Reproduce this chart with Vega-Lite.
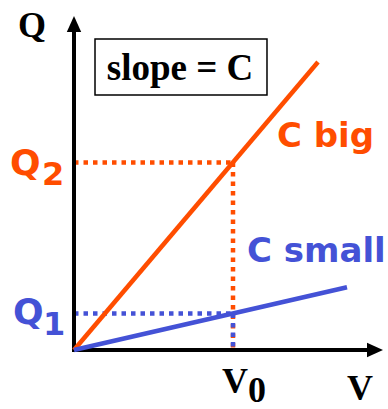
{
  "$schema": "https://vega.github.io/schema/vega-lite/v6.json",
  "width": 388,
  "height": 409,
  "autosize": "none",
  "padding": 0,
  "background": "white",
  "config": {"view": {"stroke": null}},
  "datasets": {
    "axes": [
      {"v": 0, "q": 0, "v2": 0, "q2": 2.013},
      {"v": 0, "q": 0, "v2": 1.8616, "q2": 0}
    ],
    "arrows": [
      {"dir": "up", "v": 0, "q": 2.0503},
      {"dir": "right", "v": 1.8931, "q": 0}
    ],
    "lines": [
      {"series": "big", "v": 0, "q": 0, "v2": 1.5346, "q2": 1.811},
      {"series": "small", "v": 0, "q": 0, "v2": 1.717, "q2": 0.395}
    ],
    "guides": [
      {"series": "big", "v": 0, "q": 1.18, "v2": 1, "q2": 1.18},
      {"series": "big", "v": 1, "q": 1.18, "v2": 1, "q2": 0},
      {"series": "small", "v": 0, "q": 0.23, "v2": 1, "q2": 0.23},
      {"series": "small", "v": 1, "q": 0.23, "v2": 1, "q2": 0}
    ],
    "box": [{"v": 0.1321, "q": 1.956, "v2": 1.2138, "q2": 1.6038}],
    "serif": [
      {"text": "Q", "v": -0.3522, "q": 1.9686},
      {"text": "V", "v": 0.9308, "q": -0.27},
      {"text": "0", "v": 1.0943, "q": -0.327},
      {"text": "V", "v": 1.717, "q": -0.3145}
    ],
    "title": [{"text": "slope = C", "v": 0.6667, "q": 1.6981}],
    "qletters": [
      {"series": "big", "text": "Q", "v": -0.4025, "q": 1.1006},
      {"series": "small", "text": "Q", "v": -0.3836, "q": 0.1635}
    ],
    "digits": [
      {"series": "big", "text": "2", "v": -0.2013, "q": 1.0377},
      {"series": "small", "text": "1", "v": -0.195, "q": 0.0943}
    ],
    "clabels": [
      {"series": "big", "text": "C big", "v": 1.2767, "q": 1.2767},
      {"series": "small", "text": "C small", "v": 1.0881, "q": 0.5535}
    ]
  },
  "encoding": {
    "x": {"field": "v", "type": "quantitative", "scale": {"domain": [-0.46541, 1.97484], "nice": false, "zero": false}, "axis": null},
    "y": {"field": "q", "type": "quantitative", "scale": {"domain": [-0.37107, 2.20126], "nice": false, "zero": false}, "axis": null}
  },
  "layer": [
    {
      "data": {"name": "box"},
      "mark": {"type": "rect", "fill": "white", "stroke": "black", "strokeWidth": 1.5},
      "encoding": {"x2": {"field": "v2"}, "y2": {"field": "q2"}}
    },
    {
      "data": {"name": "guides"},
      "mark": {"type": "rule", "strokeWidth": 4.5, "strokeDash": [4.5, 5]},
      "encoding": {
        "x2": {"field": "v2"}, "y2": {"field": "q2"},
        "color": {"field": "series", "type": "nominal", "scale": {"domain": ["big", "small"], "range": ["#ff4d00", "#4452d6"]}, "legend": null}
      }
    },
    {
      "data": {"name": "axes"},
      "mark": {"type": "rule", "strokeWidth": 4, "strokeCap": "square", "color": "black"},
      "encoding": {"x2": {"field": "v2"}, "y2": {"field": "q2"}}
    },
    {
      "data": {"name": "lines"},
      "mark": {"type": "rule", "strokeWidth": 4.5},
      "encoding": {
        "x2": {"field": "v2"}, "y2": {"field": "q2"},
        "color": {"field": "series", "type": "nominal", "scale": {"domain": ["big", "small"], "range": ["#ff4d00", "#4452d6"]}, "legend": null}
      }
    },
    {
      "data": {"name": "arrows"},
      "transform": [{"filter": "datum.dir === 'up'"}],
      "mark": {"type": "point", "shape": "M0,-1L0.9,1L-0.9,1Z", "size": 256, "filled": true, "color": "black", "opacity": 1}
    },
    {
      "data": {"name": "arrows"},
      "transform": [{"filter": "datum.dir === 'right'"}],
      "mark": {"type": "point", "shape": "M1,0L-1,0.9L-1,-0.9Z", "size": 256, "filled": true, "color": "black", "opacity": 1}
    },
    {
      "data": {"name": "serif"},
      "mark": {"type": "text", "font": "Liberation Serif", "fontWeight": "bold", "fontSize": 36, "align": "left", "baseline": "alphabetic", "color": "black"},
      "encoding": {"text": {"field": "text"}}
    },
    {
      "data": {"name": "title"},
      "mark": {"type": "text", "font": "Liberation Serif", "fontWeight": "bold", "fontSize": 37, "align": "center", "baseline": "alphabetic", "color": "black"},
      "encoding": {"text": {"field": "text"}}
    },
    {
      "data": {"name": "qletters"},
      "mark": {"type": "text", "font": "DejaVu Sans", "fontWeight": "bold", "fontSize": 36, "align": "left", "baseline": "alphabetic"},
      "encoding": {
        "text": {"field": "text"},
        "color": {"field": "series", "type": "nominal", "scale": {"domain": ["big", "small"], "range": ["#ff4d00", "#4452d6"]}, "legend": null}
      }
    },
    {
      "data": {"name": "digits"},
      "mark": {"type": "text", "font": "DejaVu Sans", "fontWeight": "bold", "fontSize": 32, "align": "left", "baseline": "alphabetic"},
      "encoding": {
        "text": {"field": "text"},
        "color": {"field": "series", "type": "nominal", "scale": {"domain": ["big", "small"], "range": ["#ff4d00", "#4452d6"]}, "legend": null}
      }
    },
    {
      "data": {"name": "clabels"},
      "mark": {"type": "text", "font": "DejaVu Sans", "fontWeight": "bold", "fontSize": 34, "align": "left", "baseline": "alphabetic"},
      "encoding": {
        "text": {"field": "text"},
        "color": {"field": "series", "type": "nominal", "scale": {"domain": ["big", "small"], "range": ["#ff4d00", "#4452d6"]}, "legend": null}
      }
    }
  ]
}
